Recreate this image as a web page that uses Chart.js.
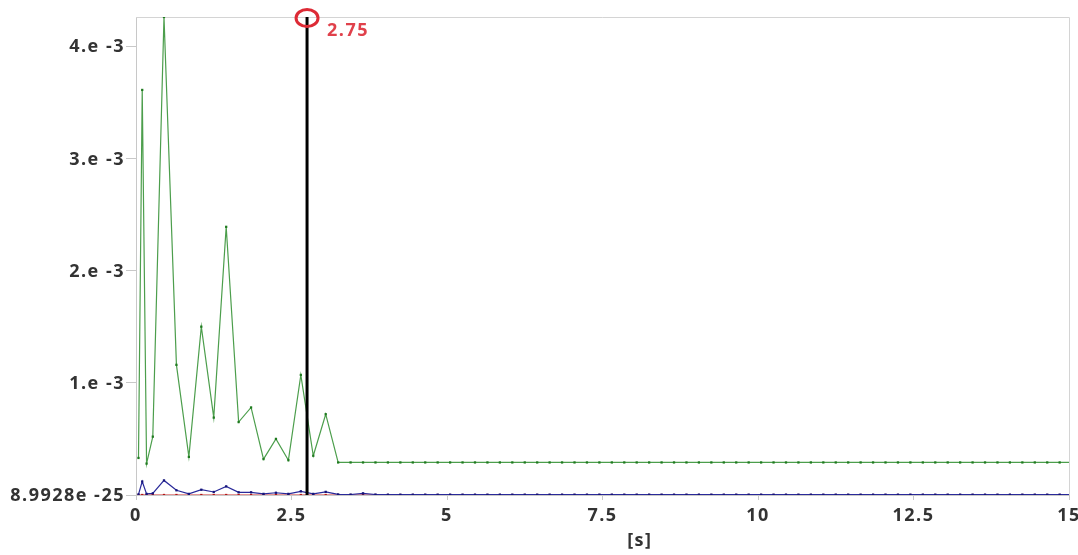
<!DOCTYPE html>
<html>
<head>
<meta charset="utf-8">
<script src="https://cdn.jsdelivr.net/npm/chart.js@4.4.1/dist/chart.umd.min.js"></script>
<style>
  html, body { margin: 0; padding: 0; background: #fff; }
</style>
</head>
<body>
<canvas id="chart" width="1078" height="555"></canvas>
<script>
// Sample times [s]
const times = [
    0.04, 0.1, 0.17, 0.27, 0.45, 0.65, 0.85, 1.05, 1.25, 1.45, 1.65, 1.85, 2.05, 2.25, 2.45,
    2.65, 2.85, 3.05, 3.25, 3.45, 3.65, 3.85, 4.05, 4.25, 4.45, 4.65, 4.85, 5.05, 5.25, 5.45,
    5.65, 5.85, 6.05, 6.25, 6.45, 6.65, 6.85, 7.05, 7.25, 7.45, 7.65, 7.85, 8.05, 8.25, 8.45,
    8.65, 8.85, 9.05, 9.25, 9.45, 9.65, 9.85, 10.05, 10.25, 10.45, 10.65, 10.85, 11.05, 11.25,
    11.45, 11.65, 11.85, 12.05, 12.25, 12.45, 12.65, 12.85, 13.05, 13.25, 13.45, 13.65, 13.85,
    14.05, 14.25, 14.45, 14.65, 14.85, 15.05
];

// Series values (in units of 1e-3)
const greenValues = [
    0.33, 3.61, 0.28, 0.52, 4.26, 1.16, 0.34, 1.50, 0.69, 2.39, 0.65, 0.78, 0.32, 0.50, 0.31,
    1.07, 0.35, 0.72, 0.29, 0.29, 0.29, 0.29, 0.29, 0.29, 0.29, 0.29, 0.29, 0.29, 0.29, 0.29,
    0.29, 0.29, 0.29, 0.29, 0.29, 0.29, 0.29, 0.29, 0.29, 0.29, 0.29, 0.29, 0.29, 0.29, 0.29,
    0.29, 0.29, 0.29, 0.29, 0.29, 0.29, 0.29, 0.29, 0.29, 0.29, 0.29, 0.29, 0.29, 0.29,
    0.29, 0.29, 0.29, 0.29, 0.29, 0.29, 0.29, 0.29, 0.29, 0.29, 0.29, 0.29, 0.29,
    0.29, 0.29, 0.29, 0.29, 0.29, 0.29
];
const blueValues = [
    0.005, 0.12, 0.01, 0.015, 0.13, 0.042, 0.01, 0.047, 0.027, 0.077, 0.024, 0.024, 0.01, 0.02, 0.01,
    0.033, 0.01, 0.028, 0.005, 0.004, 0.015, 0.004, 0.003, 0.003, 0.003, 0.003, 0.003, 0.003, 0.003, 0.003,
    0.003, 0.003, 0.003, 0.003, 0.003, 0.003, 0.003, 0.003, 0.003, 0.003, 0.003, 0.003, 0.003, 0.003, 0.003,
    0.003, 0.003, 0.003, 0.003, 0.003, 0.003, 0.003, 0.003, 0.003, 0.003, 0.003, 0.003, 0.003, 0.003,
    0.003, 0.003, 0.003, 0.003, 0.003, 0.003, 0.003, 0.003, 0.003, 0.003, 0.003, 0.003, 0.003,
    0.003, 0.003, 0.003, 0.003, 0.003, 0.003
];
const redValues = [
    0, 0, 0, 0, 0, 0, 0, 0, 0, 0, 0, 0, 0, 0, 0,
    0, 0, 0, 0, 0, 0, 0, 0, 0, 0, 0, 0, 0, 0, 0,
    0, 0, 0, 0, 0, 0, 0, 0, 0, 0, 0, 0, 0, 0, 0,
    0, 0, 0, 0, 0, 0, 0, 0, 0, 0, 0, 0, 0, 0,
    0, 0, 0, 0, 0, 0, 0, 0, 0, 0, 0, 0, 0,
    0, 0, 0, 0, 0, 0
];

// Axis ticks
const yTickValues = [0, 1, 2, 3, 4];
const yTickLabels = ['8.9928e -25', '1.e -3', '2.e -3', '3.e -3', '4.e -3'];
const xTickValues = [0, 2.5, 5, 7.5, 10, 12.5, 15];
const xTickLabels = ['0', '2.5', '5', '7.5', '10', '12.5', '15'];
const xTitle = '[s]';

// Cursor
const cursorTime = 2.75;
const cursorLabel = '2.75';

const FONT = '"Open Sans", "DejaVu Sans", sans-serif';

function toPoints(values) {
    return times.map((t, i) => ({ x: t, y: values[i] }));
}

function series(values, color, lineColor, order) {
    return {
        data: toPoints(values),
        borderColor: lineColor,
        backgroundColor: color,
        pointBorderColor: color,
        pointBackgroundColor: color,
        borderWidth: 1.2,
        pointStyle: 'rect',
        pointRadius: 1.6,
        pointBorderWidth: 0,
        tension: 0,
        order: order
    };
}

// wider letter spacing like the original labels
const spacingPlugin = {
    id: 'spacing',
    beforeDraw(chart) {
        chart.ctx.letterSpacing = '1.5px';
    }
};

// Plot frame (top and right edges)
const framePlugin = {
    id: 'frame',
    beforeDatasetsDraw(chart) {
        const a = chart.chartArea;
        const ctx = chart.ctx;
        ctx.save();
        ctx.strokeStyle = '#d4d4d4';
        ctx.lineWidth = 1;
        ctx.beginPath();
        ctx.moveTo(a.left, a.top + 0.5);
        ctx.lineTo(a.right + 0.5, a.top + 0.5);
        ctx.lineTo(a.right + 0.5, a.bottom);
        ctx.stroke();
        ctx.restore();
    }
};

// Cursor line with red ring and value label
const cursorPlugin = {
    id: 'cursor',
    afterDatasetsDraw(chart) {
        const a = chart.chartArea;
        const ctx = chart.ctx;
        const x = chart.scales.x.getPixelForValue(cursorTime);
        ctx.save();
        ctx.strokeStyle = '#000';
        ctx.lineWidth = 3;
        ctx.beginPath();
        ctx.moveTo(x, a.top);
        ctx.lineTo(x, a.bottom);
        ctx.stroke();

        ctx.strokeStyle = '#dd2a35';
        ctx.lineWidth = 3;
        ctx.beginPath();
        ctx.ellipse(x, a.top + 1, 11, 8.5, 0, 0, Math.PI * 2);
        ctx.stroke();

        ctx.fillStyle = '#e0414b';
        ctx.font = 'bold 18px ' + FONT;
        ctx.textBaseline = 'middle';
        ctx.textAlign = 'left';
        ctx.fillText(cursorLabel, x + 20, a.top + 14);
        ctx.restore();
    }
};

// x axis title placed where the original draws it
const xTitlePlugin = {
    id: 'xTitle',
    afterDraw(chart) {
        const ctx = chart.ctx;
        const x = chart.scales.x.getPixelForValue(8.1);
        ctx.save();
        ctx.fillStyle = '#333';
        ctx.font = 'bold 18px ' + FONT;
        ctx.textAlign = 'center';
        ctx.textBaseline = 'middle';
        ctx.fillText(xTitle, x, 541);
        ctx.restore();
    }
};

new Chart(document.getElementById('chart'), {
    type: 'line',
    data: {
        datasets: [
            series(greenValues, '#1f7a1f', '#4c9e4c', 1),
            series(blueValues, '#14147a', '#2a2a9a', 2),
            series(redValues, '#b01818', '#cc2a2a', 3)
        ]
    },
    options: {
        responsive: false,
        animation: false,
        devicePixelRatio: 1,
        layout: { padding: { top: 17, right: 9, left: 0, bottom: 0 } },
        plugins: {
            legend: { display: false },
            tooltip: { enabled: false }
        },
        scales: {
            x: {
                type: 'linear',
                min: 0,
                max: 15,
                afterBuildTicks: (scale) => {
                    scale.ticks = xTickValues.map(v => ({ value: v }));
                },
                afterFit: (scale) => {
                    scale.height = 60;
                    scale.paddingLeft = 0;
                    scale.paddingRight = 0;
                },
                ticks: {
                    color: '#333',
                    font: { family: FONT, size: 18, weight: 'bold' },
                    padding: 5,
                    maxRotation: 0,
                    callback: (v) => xTickLabels[xTickValues.indexOf(v)]
                },
                grid: {
                    drawOnChartArea: false,
                    drawTicks: true,
                    tickLength: 5,
                    color: '#c8c8c8'
                },
                border: { display: true, color: '#c8c8c8' }
            },
            y: {
                type: 'linear',
                min: 0,
                max: 4.26,
                afterBuildTicks: (scale) => {
                    scale.ticks = yTickValues.map(v => ({ value: v }));
                },
                afterFit: (scale) => {
                    scale.width = 136;
                    scale.paddingTop = 0;
                    scale.paddingBottom = 0;
                },
                ticks: {
                    color: '#333',
                    font: { family: FONT, size: 18, weight: 'bold' },
                    padding: 1,
                    labelOffset: 1,
                    callback: (v) => yTickLabels[yTickValues.indexOf(v)]
                },
                grid: {
                    drawOnChartArea: false,
                    drawTicks: true,
                    tickLength: 10,
                    color: '#c8c8c8'
                },
                border: { display: true, color: '#c8c8c8' }
            }
        }
    },
    plugins: [spacingPlugin, framePlugin, cursorPlugin, xTitlePlugin]
});
</script>
</body>
</html>
